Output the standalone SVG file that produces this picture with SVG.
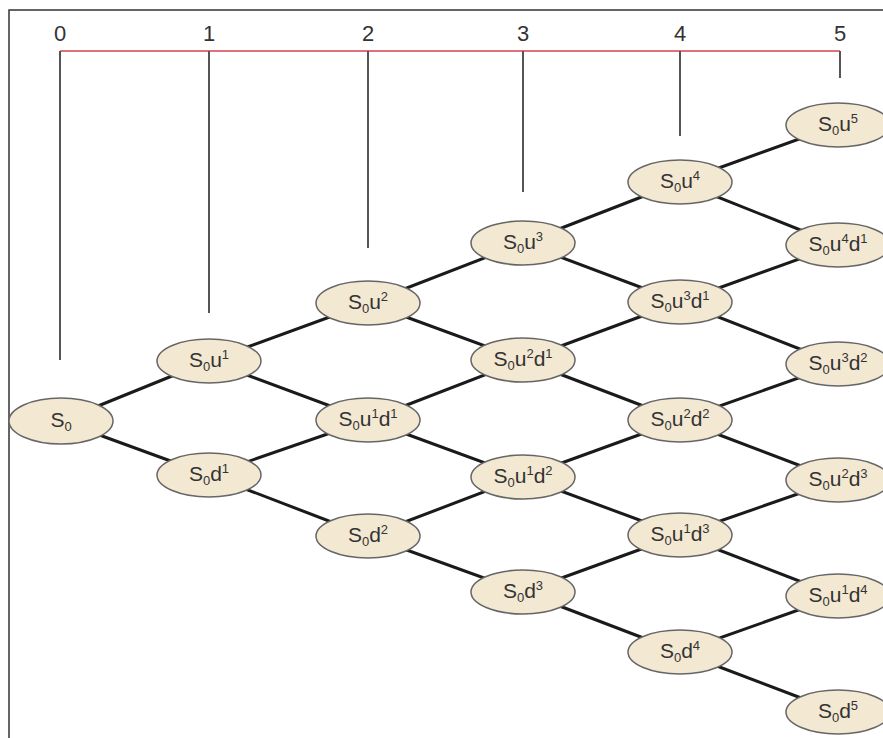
<svg xmlns="http://www.w3.org/2000/svg" width="883" height="738" viewBox="0 0 883 738">
<style>
.frame{fill:none;stroke:#333;stroke-width:1.5}
.axis{stroke:#e0737a;stroke-width:2;fill:none}
.tick{stroke:#555;stroke-width:2;fill:none}
.tl{font-family:"Liberation Sans Narrow","Liberation Sans",Arial,sans-serif;font-size:22px;fill:#333;text-anchor:middle}
.edge{stroke:#1a1a1a;stroke-width:3;fill:none}
.node ellipse{fill:#f3e8d2;stroke:#666;stroke-width:1.5}
.lbl{font-family:"Liberation Sans Narrow","Liberation Sans",Arial,sans-serif;font-size:21px;fill:#333;text-anchor:middle}
.s{font-size:13px}
</style>
<rect width="883" height="738" fill="#fff"/>
<path class="frame" d="M9,738 V10 H883"/>
<g id="axis">
<line class="axis" x1="60" y1="51" x2="840" y2="51"/>
<line class="tick" x1="60" y1="51" x2="60" y2="360"/>
<line class="tick" x1="209" y1="51" x2="209" y2="313"/>
<line class="tick" x1="368" y1="51" x2="368" y2="248"/>
<line class="tick" x1="523" y1="51" x2="523" y2="192"/>
<line class="tick" x1="680" y1="51" x2="680" y2="136"/>
<line class="tick" x1="840" y1="51" x2="840" y2="78"/>
<text class="tl" x="60" y="41">0</text>
<text class="tl" x="209" y="41">1</text>
<text class="tl" x="368" y="41">2</text>
<text class="tl" x="523" y="41">3</text>
<text class="tl" x="680" y="41">4</text>
<text class="tl" x="840" y="41">5</text>
</g>
<g id="connectors">
<line class="edge" x1="61" y1="421" x2="209" y2="361"/>
<line class="edge" x1="61" y1="421" x2="209" y2="475"/>
<line class="edge" x1="209" y1="361" x2="368" y2="303"/>
<line class="edge" x1="209" y1="361" x2="368" y2="420"/>
<line class="edge" x1="209" y1="475" x2="368" y2="420"/>
<line class="edge" x1="209" y1="475" x2="368" y2="536"/>
<line class="edge" x1="368" y1="303" x2="523" y2="243"/>
<line class="edge" x1="368" y1="303" x2="523" y2="360"/>
<line class="edge" x1="368" y1="420" x2="523" y2="360"/>
<line class="edge" x1="368" y1="420" x2="523" y2="477"/>
<line class="edge" x1="368" y1="536" x2="523" y2="477"/>
<line class="edge" x1="368" y1="536" x2="523" y2="592"/>
<line class="edge" x1="523" y1="243" x2="680" y2="182"/>
<line class="edge" x1="523" y1="243" x2="680" y2="302"/>
<line class="edge" x1="523" y1="360" x2="680" y2="302"/>
<line class="edge" x1="523" y1="360" x2="680" y2="420"/>
<line class="edge" x1="523" y1="477" x2="680" y2="420"/>
<line class="edge" x1="523" y1="477" x2="680" y2="535"/>
<line class="edge" x1="523" y1="592" x2="680" y2="535"/>
<line class="edge" x1="523" y1="592" x2="680" y2="652"/>
<line class="edge" x1="680" y1="182" x2="838" y2="125"/>
<line class="edge" x1="680" y1="182" x2="838" y2="245"/>
<line class="edge" x1="680" y1="302" x2="838" y2="245"/>
<line class="edge" x1="680" y1="302" x2="838" y2="364"/>
<line class="edge" x1="680" y1="420" x2="838" y2="364"/>
<line class="edge" x1="680" y1="420" x2="838" y2="480"/>
<line class="edge" x1="680" y1="535" x2="838" y2="480"/>
<line class="edge" x1="680" y1="535" x2="838" y2="596"/>
<line class="edge" x1="680" y1="652" x2="838" y2="596"/>
<line class="edge" x1="680" y1="652" x2="838" y2="712"/>
</g>
<g id="n_s0" class="node"><ellipse cx="61" cy="421" rx="52" ry="23"/><text class="lbl" x="61" y="427">S<tspan class="s" dy="4">0</tspan></text></g>
<g id="n_u1" class="node"><ellipse cx="209" cy="361" rx="52" ry="22"/><text class="lbl" x="209" y="367">S<tspan class="s" dy="4">0</tspan><tspan dy="-4">u</tspan><tspan class="s" dy="-8">1</tspan></text></g>
<g id="n_d1" class="node"><ellipse cx="209" cy="475" rx="52" ry="22"/><text class="lbl" x="209" y="481">S<tspan class="s" dy="4">0</tspan><tspan dy="-4">d</tspan><tspan class="s" dy="-8">1</tspan></text></g>
<g id="n_u2" class="node"><ellipse cx="368" cy="303" rx="52" ry="22"/><text class="lbl" x="368" y="309">S<tspan class="s" dy="4">0</tspan><tspan dy="-4">u</tspan><tspan class="s" dy="-8">2</tspan></text></g>
<g id="n_u1d1" class="node"><ellipse cx="368" cy="420" rx="52" ry="22"/><text class="lbl" x="368" y="426">S<tspan class="s" dy="4">0</tspan><tspan dy="-4">u</tspan><tspan class="s" dy="-8">1</tspan><tspan dy="8">d</tspan><tspan class="s" dy="-8">1</tspan></text></g>
<g id="n_d2" class="node"><ellipse cx="368" cy="536" rx="52" ry="22"/><text class="lbl" x="368" y="542">S<tspan class="s" dy="4">0</tspan><tspan dy="-4">d</tspan><tspan class="s" dy="-8">2</tspan></text></g>
<g id="n_u3" class="node"><ellipse cx="523" cy="243" rx="52" ry="22"/><text class="lbl" x="523" y="249">S<tspan class="s" dy="4">0</tspan><tspan dy="-4">u</tspan><tspan class="s" dy="-8">3</tspan></text></g>
<g id="n_u2d1" class="node"><ellipse cx="523" cy="360" rx="52" ry="22"/><text class="lbl" x="523" y="366">S<tspan class="s" dy="4">0</tspan><tspan dy="-4">u</tspan><tspan class="s" dy="-8">2</tspan><tspan dy="8">d</tspan><tspan class="s" dy="-8">1</tspan></text></g>
<g id="n_u1d2" class="node"><ellipse cx="523" cy="477" rx="52" ry="22"/><text class="lbl" x="523" y="483">S<tspan class="s" dy="4">0</tspan><tspan dy="-4">u</tspan><tspan class="s" dy="-8">1</tspan><tspan dy="8">d</tspan><tspan class="s" dy="-8">2</tspan></text></g>
<g id="n_d3" class="node"><ellipse cx="523" cy="592" rx="52" ry="22"/><text class="lbl" x="523" y="598">S<tspan class="s" dy="4">0</tspan><tspan dy="-4">d</tspan><tspan class="s" dy="-8">3</tspan></text></g>
<g id="n_u4" class="node"><ellipse cx="680" cy="182" rx="52" ry="22"/><text class="lbl" x="680" y="188">S<tspan class="s" dy="4">0</tspan><tspan dy="-4">u</tspan><tspan class="s" dy="-8">4</tspan></text></g>
<g id="n_u3d1" class="node"><ellipse cx="680" cy="302" rx="52" ry="22"/><text class="lbl" x="680" y="308">S<tspan class="s" dy="4">0</tspan><tspan dy="-4">u</tspan><tspan class="s" dy="-8">3</tspan><tspan dy="8">d</tspan><tspan class="s" dy="-8">1</tspan></text></g>
<g id="n_u2d2" class="node"><ellipse cx="680" cy="420" rx="52" ry="22"/><text class="lbl" x="680" y="426">S<tspan class="s" dy="4">0</tspan><tspan dy="-4">u</tspan><tspan class="s" dy="-8">2</tspan><tspan dy="8">d</tspan><tspan class="s" dy="-8">2</tspan></text></g>
<g id="n_u1d3" class="node"><ellipse cx="680" cy="535" rx="52" ry="22"/><text class="lbl" x="680" y="541">S<tspan class="s" dy="4">0</tspan><tspan dy="-4">u</tspan><tspan class="s" dy="-8">1</tspan><tspan dy="8">d</tspan><tspan class="s" dy="-8">3</tspan></text></g>
<g id="n_d4" class="node"><ellipse cx="680" cy="652" rx="52" ry="22"/><text class="lbl" x="680" y="658">S<tspan class="s" dy="4">0</tspan><tspan dy="-4">d</tspan><tspan class="s" dy="-8">4</tspan></text></g>
<g id="n_u5" class="node"><ellipse cx="838" cy="125" rx="52" ry="22"/><text class="lbl" x="838" y="131">S<tspan class="s" dy="4">0</tspan><tspan dy="-4">u</tspan><tspan class="s" dy="-8">5</tspan></text></g>
<g id="n_u4d1" class="node"><ellipse cx="838" cy="245" rx="52" ry="22"/><text class="lbl" x="838" y="251">S<tspan class="s" dy="4">0</tspan><tspan dy="-4">u</tspan><tspan class="s" dy="-8">4</tspan><tspan dy="8">d</tspan><tspan class="s" dy="-8">1</tspan></text></g>
<g id="n_u3d2" class="node"><ellipse cx="838" cy="364" rx="52" ry="22"/><text class="lbl" x="838" y="370">S<tspan class="s" dy="4">0</tspan><tspan dy="-4">u</tspan><tspan class="s" dy="-8">3</tspan><tspan dy="8">d</tspan><tspan class="s" dy="-8">2</tspan></text></g>
<g id="n_u2d3" class="node"><ellipse cx="838" cy="480" rx="52" ry="22"/><text class="lbl" x="838" y="486">S<tspan class="s" dy="4">0</tspan><tspan dy="-4">u</tspan><tspan class="s" dy="-8">2</tspan><tspan dy="8">d</tspan><tspan class="s" dy="-8">3</tspan></text></g>
<g id="n_u1d4" class="node"><ellipse cx="838" cy="596" rx="52" ry="22"/><text class="lbl" x="838" y="602">S<tspan class="s" dy="4">0</tspan><tspan dy="-4">u</tspan><tspan class="s" dy="-8">1</tspan><tspan dy="8">d</tspan><tspan class="s" dy="-8">4</tspan></text></g>
<g id="n_d5" class="node"><ellipse cx="838" cy="712" rx="52" ry="22"/><text class="lbl" x="838" y="718">S<tspan class="s" dy="4">0</tspan><tspan dy="-4">d</tspan><tspan class="s" dy="-8">5</tspan></text></g>
</svg>
